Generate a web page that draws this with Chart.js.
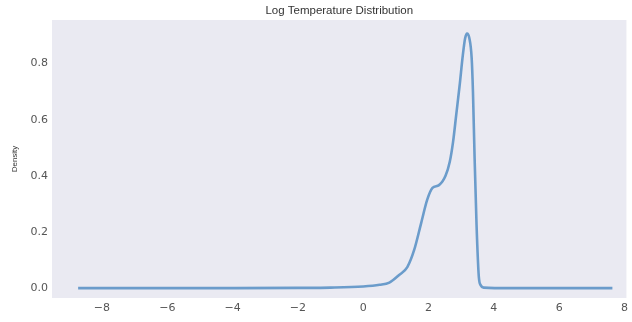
<!DOCTYPE html>
<html>
<head>
<meta charset="utf-8">
<script src="https://cdn.jsdelivr.net/npm/chart.js@4"></script>
<style>
  html, body { margin: 0; padding: 0; background: #ffffff; }
  #wrap { width: 632px; height: 322px; }
</style>
</head>
<body>
<div id="wrap"><canvas id="kde"></canvas></div>
<script>
// Valores (densidad KDE de log-temperatura)
const logTemp = [-8.73, -6, -4, -2, -1, 0, 0.5, 0.8, 1.1, 1.35, 1.56, 1.77, 1.96, 2.12, 2.32, 2.52, 2.65, 2.75, 2.85, 2.95, 3.05, 3.12, 3.18, 3.25, 3.32, 3.36, 3.41, 3.47, 3.54, 3.6, 3.69, 4.5, 7.63];
const density = [0, 0, 0, 0.001, 0.002, 0.006, 0.012, 0.02, 0.047, 0.075, 0.136, 0.23, 0.315, 0.357, 0.367, 0.4, 0.45, 0.52, 0.62, 0.72, 0.83, 0.89, 0.907, 0.89, 0.82, 0.70, 0.465, 0.225, 0.04, 0.01, 0.002, 0, 0];
const xTicks = [-8, -6, -4, -2, 0, 2, 4, 6, 8];
const yTicks = [0, 0.2, 0.4, 0.6, 0.8];
const chartTitle = 'Log Temperature Distribution';

const COLORS = {
    panel: '#eaeaf2',
    line: '#6b9ccb',
    tick: '#555555',
    title: '#333333',
};

// Fondo del panel y título centrado sobre el área de trazado (estilo seaborn)
const panelBg = {
    id: 'panelBg',
    beforeDraw(chart) {
        const { ctx, chartArea: a } = chart;
        ctx.save();
        ctx.fillStyle = COLORS.panel;
        ctx.fillRect(a.left, a.top, a.right - a.left, a.bottom - a.top);
        ctx.fillStyle = COLORS.title;
        ctx.font = '11.5px "Liberation Sans"';
        ctx.textAlign = 'center';
        ctx.textBaseline = 'middle';
        ctx.fillText(chartTitle, (a.left + a.right) / 2, 11);
        ctx.restore();
    },
};

new Chart(document.getElementById('kde'), {
    type: 'line',
    data: {
        datasets: [{
            data: logTemp.map((x, i) => ({ x, y: density[i] })),
            borderColor: COLORS.line,
            borderWidth: 2.6,
            pointRadius: 0,
            cubicInterpolationMode: 'monotone',
            fill: false,
        }],
    },
    options: {
        responsive: true,
        maintainAspectRatio: false,
        animation: false,
        layout: { padding: { left: 0, right: 4, top: 20, bottom: 0 } },
        plugins: {
            legend: { display: false },
            tooltip: { enabled: false },
            title: { display: false },
        },
        scales: {
            x: {
                type: 'linear',
                min: -9.53,
                max: 8.06,
                grid: { display: false, drawTicks: false },
                border: { display: false },
                afterBuildTicks: (s) => { s.ticks = xTicks.map((v) => ({ value: v })); },
                afterFit: (s) => { s.height = 24; },
                ticks: {
                    color: COLORS.tick,
                    padding: 4,
                    font: { family: 'DejaVu Sans', size: 11 },
                    callback: (v) => (v < 0 ? '\u2212' + Math.abs(v) : String(v)),
                },
            },
            y: {
                min: -0.035,
                max: 0.955,
                grid: { display: false, drawTicks: false },
                border: { display: false },
                afterBuildTicks: (s) => { s.ticks = yTicks.map((v) => ({ value: v })); },
                afterFit: (s) => { s.width = 52; },
                title: {
                    display: true,
                    text: 'Density',
                    color: COLORS.title,
                    font: { family: 'Liberation Sans', size: 8 },
                    padding: { top: 10, bottom: 0 },
                },
                ticks: {
                    color: COLORS.tick,
                    padding: 4,
                    font: { family: 'DejaVu Sans', size: 11 },
                    callback: (v) => Number(v).toFixed(1),
                },
            },
        },
    },
    plugins: [panelBg],
});
</script>
</body>
</html>
